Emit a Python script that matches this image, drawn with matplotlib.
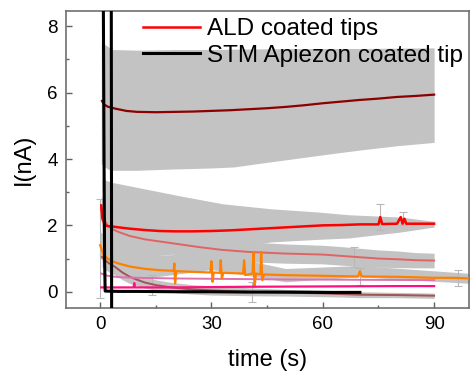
import matplotlib
matplotlib.use("Agg")
import matplotlib.pyplot as plt
import numpy as np

plt.rcParams['font.family'] = ['Liberation Sans', 'DejaVu Sans']

# ---------------- data ----------------
# maroon series with wide band
t_a = [0.5, 1, 2, 4, 7, 10, 15, 20, 25, 30, 35, 40, 45, 50, 55, 60, 65, 70, 75, 80, 85, 90]
i_a = [5.75, 5.65, 5.58, 5.52, 5.45, 5.42, 5.41, 5.42, 5.43, 5.45, 5.47, 5.5, 5.53, 5.57,
       5.62, 5.68, 5.73, 5.78, 5.82, 5.87, 5.9, 5.94]
tb_a = [0.3, 2, 3, 10, 20, 30, 36, 45, 55, 63, 70, 80, 90]
up_a = [7.5, 7.4, 7.3, 7.28, 7.3, 7.3, 7.31, 7.32, 7.33, 7.33, 7.33, 7.34, 7.35]
lo_a = [3.85, 3.7, 3.66, 3.66, 3.7, 3.73, 3.76, 3.9, 4.05, 4.17, 4.27, 4.4, 4.5]

# red series (ALD)
t_b = [0.3, 0.6, 1, 1.5, 2, 3, 5, 8, 12, 16, 20, 25, 30, 35, 40, 45, 50, 55, 60, 65, 70,
       75, 75.5, 76, 80, 81, 81.5, 82, 82.5, 85, 90]
i_b = [2.6, 2.2, 2.1, 2.0, 1.98, 1.97, 1.94, 1.9, 1.86, 1.83, 1.82, 1.82, 1.83, 1.85, 1.88,
       1.91, 1.94, 1.97, 2.0, 2.01, 2.03, 2.03, 2.25, 2.04, 2.05, 2.25, 2.05, 2.2, 2.05, 2.05, 2.05]
tb_b = [0.5, 3, 12, 21, 33, 46, 59, 67, 81, 90]
up_b = [3.4, 3.3, 3.1, 2.9, 2.65, 2.5, 2.4, 2.32, 2.25, 2.12]
lo_b = [1.2, 1.0, 1.05, 1.15, 1.3, 1.5, 1.58, 1.62, 1.8, 1.95]

# salmon series
t_c = [0.3, 1, 2, 3, 5, 8, 12, 17, 22, 27, 33, 40, 50, 60, 65, 70, 75, 80, 85, 90]
i_c = [2.5, 2.2, 2.0, 1.9, 1.8, 1.68, 1.58, 1.5, 1.42, 1.34, 1.26, 1.2, 1.15, 1.12, 1.08,
       1.04, 1.0, 0.98, 0.95, 0.94]
hw_c = [0.4, 0.38, 0.36, 0.35, 0.35, 0.35, 0.34, 0.33, 0.32, 0.31, 0.3, 0.3, 0.29, 0.28,
        0.28, 0.27, 0.26, 0.25, 0.23, 0.22]

# orange series
t_d = [0, 0.5, 1, 2, 3, 5, 8, 12, 16, 19.8, 20, 20.2, 20.5, 25, 29.7, 30, 30.3, 30.6, 32.3,
       32.5, 32.8, 33.2, 38.5, 38.8, 39.1, 41.1, 41.3, 41.6, 42, 43.2, 43.4, 43.7, 44.2, 50,
       60, 69.5, 70, 70.5, 80, 90, 95, 100]
i_d = [1.4, 1.25, 1.1, 1.0, 0.93, 0.85, 0.76, 0.69, 0.65, 0.63, 0.85, 0.25, 0.62, 0.6, 0.58,
       0.92, 0.3, 0.58, 0.57, 0.95, 0.4, 0.57, 0.55, 0.95, 0.5, 0.55, 1.18, 0.15, 0.55, 0.52,
       1.2, 0.35, 0.52, 0.5, 0.48, 0.46, 0.62, 0.46, 0.45, 0.42, 0.42, 0.4]
tb_d = [0, 10, 30, 50, 70, 100]
hw_d = [0.4, 0.35, 0.25, 0.2, 0.17, 0.15]

# light pink series
t_e = [0.3, 2, 5, 10, 20, 30, 50, 70, 90]
i_e = [0.55, 0.48, 0.44, 0.42, 0.4, 0.39, 0.37, 0.36, 0.35]

# deep pink series
t_f = [0.3, 9, 9.2, 9.4, 10, 20, 40, 60, 80, 90]
i_f = [0.13, 0.13, 0.26, 0.13, 0.13, 0.13, 0.15, 0.16, 0.17, 0.17]

# brown series
t_g = [0.5, 1.3, 2.5, 4, 6, 8, 10, 12, 15, 18, 21, 25, 30, 35, 40, 50, 60, 65, 70, 80, 85, 90]
i_g = [1.05, 0.95, 0.85, 0.75, 0.58, 0.45, 0.36, 0.28, 0.2, 0.15, 0.11, 0.07, 0.04, 0.02,
       0.0, -0.03, -0.05, -0.07, -0.09, -0.1, -0.11, -0.12]
hw_g = [0.3, 0.28, 0.26, 0.24, 0.22, 0.2, 0.18, 0.17, 0.16, 0.15, 0.15, 0.14, 0.14, 0.13,
        0.12, 0.1, 0.1, 0.09, 0.09, 0.08, 0.08, 0.08]

# black STM series
t_h1 = [0.85, 0.95, 1.05, 1.2, 1.35, 5, 10, 20, 30, 40, 50, 60, 70]
i_h1 = [9.0, 6.6, 4.0, 1.0, 0.02, 0.01, 0.01, 0.0, 0.0, -0.01, -0.01, -0.02, -0.02]
t_h2 = [3.0, 3.1]
i_h2 = [9.0, -1.0]

# sparse capped error bars
eb_t = [0.0, 75.5, 81.5, 68.5, 96.5, 70.0, 14.0, 41.0]
eb_y = [1.3, 2.25, 2.2, 1.05, 0.42, 0.46, 0.2, 0.0]
eb_e = [1.5, 0.4, 0.2, 0.3, 0.25, 0.25, 0.3, 0.3]

legend_labels = ['ALD coated tips', 'STM Apiezon coated tip']

# ---------------- figure ----------------
fig = plt.figure(figsize=(4.70, 3.72), dpi=100)
ax = fig.add_axes([66 / 470, 1 - 308 / 372, (469 - 66) / 470, (308 - 11) / 372])

gray = '#C3C3C3'
ax.fill_between(tb_a, lo_a, up_a, color=gray, lw=0, zorder=1)
ax.fill_between(tb_b, lo_b, up_b, color=gray, lw=0, zorder=1)
ic = np.array(i_c); hc = np.array(hw_c)
ax.fill_between(t_c, ic - hc, ic + hc, color=gray, lw=0, zorder=1)
idd = np.interp(tb_d, t_d, i_d)
ax.fill_between(tb_d, idd - np.array(hw_d), idd + np.array(hw_d), color=gray, lw=0, zorder=1)
ig = np.array(i_g); hg = np.array(hw_g)
ax.fill_between(t_g, ig - hg, ig + hg, color=gray, lw=0, zorder=1)
ax.errorbar(eb_t, eb_y, yerr=eb_e, fmt='none', ecolor='#B8B8B8', elinewidth=0.8,
            capsize=3, capthick=0.8, zorder=1.5)

ax.plot(t_a, i_a, color='#8B0000', lw=1.6, zorder=3)
ax.plot(t_c, i_c, color='#E06464', lw=1.4, zorder=3)
ax.plot(t_g, i_g, color='#A05555', lw=1.4, zorder=3)
ax.plot(t_e, i_e, color='#E070B0', lw=1.4, zorder=3)
ax.plot(t_d, i_d, color='#FF8000', lw=1.6, zorder=3)
ax.plot(t_f, i_f, color='#FF1080', lw=1.6, zorder=3)
l1, = ax.plot(t_b, i_b, color='#FF0000', lw=1.8, zorder=4)
l2, = ax.plot(t_h1, i_h1, color='black', lw=2.2, zorder=5)
ax.plot(t_h2, i_h2, color='black', lw=2.2, zorder=5)

ax.set_xlim(-9.2, 99.4)
ax.set_ylim(-0.49, 8.46)
ax.set_xticks([0, 30, 60, 90])
ax.set_xticks([15, 45, 75], minor=True)
ax.set_yticks([0, 2, 4, 6, 8])
ax.set_yticks([1, 3, 5, 7], minor=True)
ax.tick_params(which='both', direction='in', color='#606060', labelsize=13.5, pad=6)
ax.tick_params(which='major', length=4.5, width=1.0)
ax.tick_params(which='minor', length=2.5, width=1.0)
for s in ax.spines.values():
    s.set_color('#707070')
    s.set_linewidth(1.2)

ax.set_xlabel('time (s)', fontsize=17, labelpad=11)
ax.set_ylabel('I(nA)', fontsize=17, labelpad=9)

ax.legend([l1, l2], legend_labels, loc='upper left', bbox_to_anchor=(143 / 470, 1 - 18 / 372),
          bbox_transform=fig.transFigure, frameon=False, fontsize=17.5, handlelength=2.35,
          handletextpad=0.3, labelspacing=0.2, borderpad=0, borderaxespad=0)

fig.savefig('out.png', dpi=100)
